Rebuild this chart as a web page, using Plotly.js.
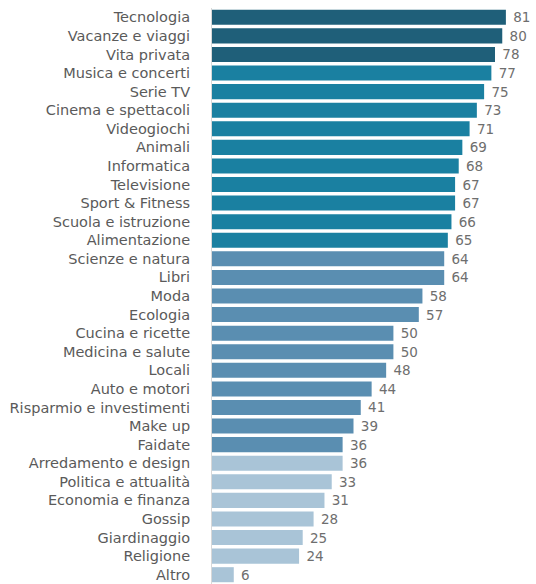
<!DOCTYPE html>
<html>
<head>
<meta charset="utf-8">
<script src="https://cdn.plot.ly/plotly-3.0.1.min.js"></script>
<style>html,body{margin:0;padding:0;background:#fff;}#chart{width:536px;height:584px;}</style>
</head>
<body>
<div id="chart"></div>
<script>
const categories = ["Tecnologia","Vacanze e viaggi","Vita privata","Musica e concerti","Serie TV","Cinema e spettacoli","Videogiochi","Animali","Informatica","Televisione","Sport & Fitness","Scuola e istruzione","Alimentazione","Scienze e natura","Libri","Moda","Ecologia","Cucina e ricette","Medicina e salute","Locali","Auto e motori","Risparmio e investimenti","Make up","Faidate","Arredamento e design","Politica e attualità","Economia e finanza","Gossip","Giardinaggio","Religione","Altro"];
const values = [81,80,78,77,75,73,71,69,68,67,67,66,65,64,64,58,57,50,50,48,44,41,39,36,36,33,31,28,25,24,6];
const groups = [0,0,0,1,1,1,1,1,1,1,1,1,1,2,2,2,2,2,2,2,2,2,2,2,3,3,3,3,3,3,3];
const groupColors = ["#1f5f79","#1a80a1","#5a8eb1","#a9c4d7"];

const trace = {
  type: "bar",
  orientation: "h",
  y: categories,
  x: values,
  marker: {color: groups.map(g => groupColors[g])},
  text: values.map(v => String(v)),
  texttemplate: " %{text}",
  textposition: "outside",
  constraintext: "none",
  cliponaxis: false,
  textfont: {family: "DejaVu Sans, sans-serif", size: 13.5, color: "#6e6e6e"},
  hoverinfo: "none"
};

const layout = {
  width: 536, height: 584,
  margin: {l: 212, r: 0, t: 8, b: 0},
  paper_bgcolor: "#fff", plot_bgcolor: "#fff",
  showlegend: false,
  bargap: 0.19,
  xaxis: {range: [0, 89.3], visible: false, showgrid: false, zeroline: false},
  yaxis: {
    type: "category",
    autorange: "reversed",
    tickmode: "array", tickvals: categories, ticktext: categories,
    showline: true, linecolor: "#d8d8d8", linewidth: 1,
    showgrid: false, zeroline: false, ticks: "",
    ticklabelstandoff: 18,
    tickfont: {family: "DejaVu Sans, sans-serif", size: 14.5, color: "#5a5a5a"}
  }
};

Plotly.newPlot("chart", [trace], layout, {staticPlot: true, displayModeBar: false});
</script>
</body>
</html>
